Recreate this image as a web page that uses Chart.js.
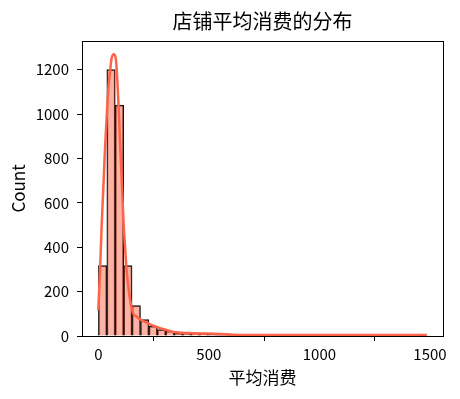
<!DOCTYPE html>
<html>
<head>
<meta charset="utf-8">
<script src="https://cdn.jsdelivr.net/npm/chart.js@4.4.1/dist/chart.umd.min.js"></script>
<style>
  body { margin: 0; background: #ffffff; }
  canvas { display: block; }
</style>
</head>
<body>
<canvas id="histChart" width="460" height="399"></canvas>
<script>
// ============================================
// DATA
// ============================================
const titleText = "店铺平均消费的分布";
const xLabel = "平均消费";
const yLabel = "Count";

// histogram: 39 bins starting at 0.5, each ~38.07 wide
const binStart = 0.5;
const binWidth = 38.07;
const binCounts = [317, 1200, 1040, 317, 137, 74, 44, 29, 22, 13, 13, 13, 11, 8, 6, 4, 0, 0, 0, 0,
                   0, 0, 0, 0, 0, 0, 0, 0, 0, 0, 0, 0, 0, 0, 0, 0, 0, 0, 0];

// KDE curve (scaled to counts)
const kdeX = [0, 8, 15, 23, 30, 38, 45, 53, 60, 71, 80, 86, 92, 98, 106, 113, 121, 128, 136, 143,
              158, 173, 188, 226, 264, 301, 339, 414, 490, 550, 610, 700, 900, 1100, 1300, 1486];
const kdeY = [116, 296, 491, 671, 837, 987, 1107, 1189, 1250, 1269, 1242, 1152, 1032, 882, 701, 536, 401, 296, 221, 168,
              101, 88, 76, 56, 41, 29, 18, 13, 11, 9, 6, 4, 4, 4, 4, 4];

const xTicks = [0, 500, 1000, 1500];
const yTicks = [0, 200, 400, 600, 800, 1000, 1200];

const BAR_FILL = "rgba(255, 99, 71, 0.5)";
const LINE_COLOR = "#ff6347";
const FONT_FAMILY = "'Noto Sans CJK SC', 'Noto Sans', sans-serif";

// ============================================
// CHART
// ============================================
const binCenters = binCounts.map((_, i) => binStart + binWidth * (i + 0.5));

// full box round the plot, like matplotlib spines
const frameBox = {
    id: "frameBox",
    afterDraw(chart) {
        const { ctx, chartArea } = chart;
        ctx.save();
        ctx.strokeStyle = "#000";
        ctx.lineWidth = 1;
        ctx.strokeRect(Math.round(chartArea.left) + 0.5, Math.round(chartArea.top) + 0.5,
            Math.round(chartArea.right - chartArea.left), Math.round(chartArea.bottom - chartArea.top));
        ctx.restore();
    }
};

Chart.defaults.color = "#000";
Chart.defaults.font.family = FONT_FAMILY;

const ctx = document.getElementById("histChart").getContext("2d");
new Chart(ctx, {
    type: "bar",
    data: {
        datasets: [
            {
                type: "line",
                data: kdeX.map((x, i) => ({ x: x, y: kdeY[i] })),
                borderColor: LINE_COLOR,
                borderWidth: 2.5,
                pointRadius: 0,
                cubicInterpolationMode: "monotone",
                fill: false,
                order: 0
            },
            {
                type: "bar",
                data: binCenters.map((x, i) => ({ x: x, y: binCounts[i] })),
                backgroundColor: BAR_FILL,
                borderColor: "#111",
                borderWidth: 1,
                borderSkipped: "start",
                barPercentage: 1,
                categoryPercentage: 1,
                order: 1
            }
        ]
    },
    options: {
        responsive: false,
        animation: false,
        layout: { padding: { left: 0, right: 17, top: 0, bottom: 0 } },
        plugins: {
            legend: { display: false },
            tooltip: { enabled: false },
            title: {
                display: true,
                text: titleText,
                fullSize: false,
                color: "#000",
                font: { size: 20, weight: "normal", family: FONT_FAMILY },
                padding: { top: 9, bottom: 8 }
            }
        },
        scales: {
            x: {
                type: "linear",
                offset: false,
                min: -73.7,
                max: 1559,
                afterBuildTicks: scale => { scale.ticks = xTicks.map(v => ({ value: v })); },
                afterFit: scale => { scale.height = 63; },
                grid: { drawOnChartArea: false, drawTicks: true, tickLength: 5, color: "#000" },
                border: { display: false },
                ticks: { padding: 4, font: { size: 15 }, color: "#000", maxRotation: 0,
                         callback: v => String(v) },
                title: {
                    display: true,
                    text: xLabel,
                    font: { size: 17 },
                    padding: { top: 0, bottom: 11 }
                }
            },
            y: {
                min: 0,
                max: 1329,
                afterBuildTicks: scale => { scale.ticks = yTicks.map(v => ({ value: v })); },
                afterFit: scale => { scale.width = 82; },
                grid: { drawOnChartArea: false, drawTicks: true, tickLength: 5, color: "#000" },
                border: { display: false },
                ticks: { padding: 8, font: { size: 15 }, color: "#000",
                         callback: v => String(v) },
                title: {
                    display: true,
                    text: yLabel,
                    font: { size: 17 },
                    padding: { top: 8, bottom: 0 }
                }
            }
        }
    },
    plugins: [frameBox]
});
</script>
</body>
</html>
